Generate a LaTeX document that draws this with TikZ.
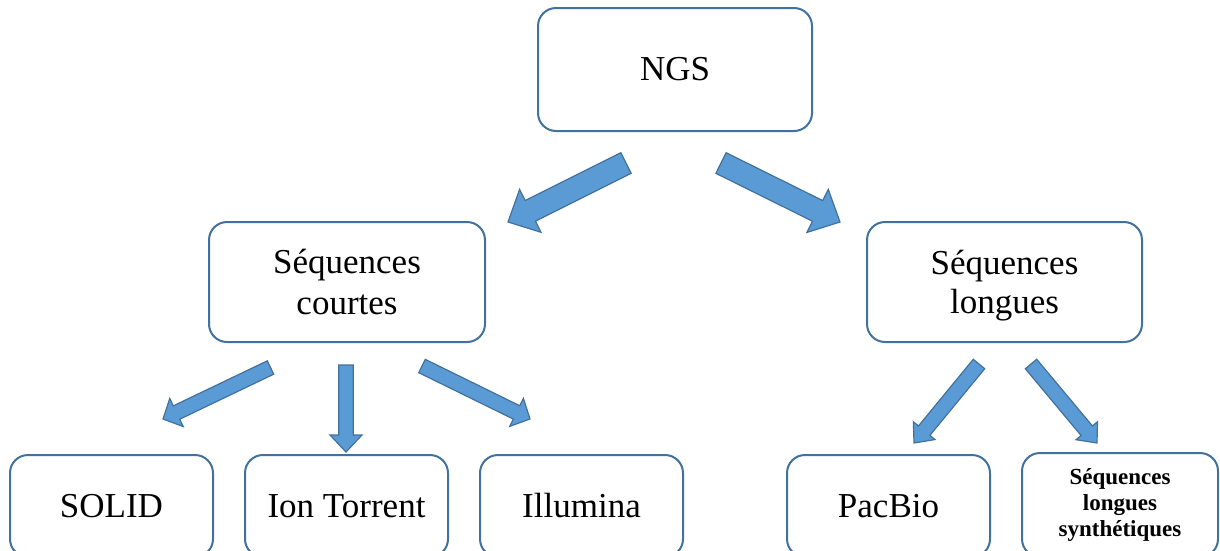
\documentclass[tikz,border=0pt]{standalone}
\usepackage{fontspec}
\setmainfont{Liberation Serif}
\usetikzlibrary{calc}
\definecolor{boxline}{RGB}{65,113,156}
\definecolor{arrfill}{RGB}{91,155,213}
\definecolor{arrline}{RGB}{65,113,156}
\tikzset{
  box/.style={draw=boxline, line width=2pt, rounded corners=18pt, fill=white,
    align=center, inner sep=0pt, font=\fontsize{35}{40}\selectfont},
  smallbox/.style={box, font=\bfseries\fontsize{23}{26}\selectfont},
  barrow/.style={fill=arrfill, draw=arrline, line width=1.2pt, line join=miter}
}
% #1 tail, #2 tip, #3 half shaft width, #4 half head width, #5 head length
\newcommand\blockarrow[5]{%
  \coordinate (bah) at ($(#2)!#5!(#1)$);
  \filldraw[barrow] ($(#1)!#3!90:(#2)$) -- ($(bah)!#3!90:(#2)$) -- ($(bah)!#4!90:(#2)$)
    -- (#2) -- ($(bah)!#4!-90:(#2)$) -- ($(bah)!#3!-90:(#2)$) -- ($(#1)!#3!-90:(#2)$) -- cycle;
}
\begin{document}
\begin{tikzpicture}[x=1pt,y=-1pt]
\useasboundingbox (0,0) rectangle (1220,550);
\clip (0,0) rectangle (1220,550);
% boxes
\node[box, minimum width=274pt, minimum height=123pt] (ngs) at (675,69.5) {NGS};
\node[box, minimum width=276pt, minimum height=120pt, text depth=0pt] (courtes) at (347,282) {Séquences\\[1pt]courtes};
\node[box, minimum width=275pt, minimum height=120pt, text depth=0pt] (longues) at (1004.5,282) {Séquences\\[-1pt]longues};
\node[box, minimum width=203pt, minimum height=102pt] (solid) at (111.5,506) {SOLID};
\node[box, minimum width=203pt, minimum height=102pt] (ion) at (346.5,506) {Ion Torrent};
\node[box, minimum width=203pt, minimum height=102pt] (illumina) at (581.5,506) {Illumina};
\node[box, minimum width=203pt, minimum height=102pt] (pacbio) at (888.5,506) {PacBio};
\node[smallbox, minimum width=196pt, minimum height=104pt] (synth) at (1120,505) {Séquences\\longues\\synthétiques};
% arrow end points
\coordinate (a1s) at (626,163); \coordinate (a1e) at (508,222);
\coordinate (a2s) at (721,163); \coordinate (a2e) at (840,222);
\coordinate (a3s) at (270.5,367.5); \coordinate (a3e) at (163,419);
\coordinate (a4s) at (346,365); \coordinate (a4e) at (346,452);
\coordinate (a5s) at (422,366); \coordinate (a5e) at (530,419);
\coordinate (a6s) at (979,364); \coordinate (a6e) at (914,443);
\coordinate (a7s) at (1031,364); \coordinate (a7e) at (1097,443);
% block arrows
\blockarrow{a1s}{a1e}{11.5pt}{24pt}{25pt}
\blockarrow{a2s}{a2e}{11.5pt}{24pt}{25pt}
\blockarrow{a3s}{a3e}{7.4pt}{15.6pt}{15pt}
\blockarrow{a4s}{a4e}{7.2pt}{16pt}{17pt}
\blockarrow{a5s}{a5e}{7.4pt}{15.6pt}{15pt}
\blockarrow{a6s}{a6e}{7.4pt}{14pt}{16pt}
\blockarrow{a7s}{a7e}{7.4pt}{14pt}{16pt}
\end{tikzpicture}
\end{document}
